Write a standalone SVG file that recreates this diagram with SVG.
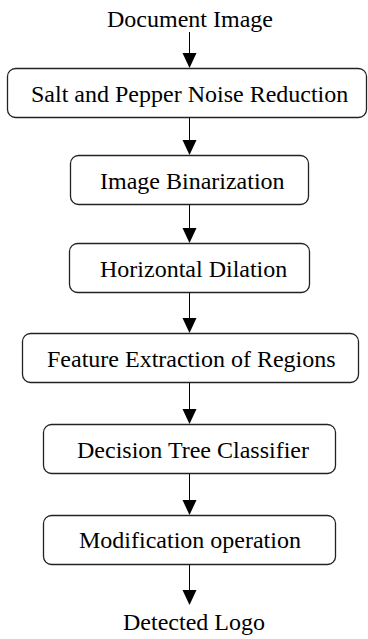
<svg xmlns="http://www.w3.org/2000/svg" width="368" height="639" viewBox="0 0 368 639">
<style>
.box{fill:#fff;stroke:#222;stroke-width:1.3}
.t{font-family:'Liberation Serif','Times New Roman',serif;font-size:24px;fill:#000}
.c{stroke:#000;stroke-width:1;fill:none}
.ah{fill:#000;stroke:none}
</style>
<rect width="368" height="639" fill="#fff"/>
<g id="connectors">
<line class="c" x1="189.5" y1="32" x2="189.5" y2="53"/>
<polygon class="ah" points="182.5,53 196.5,53 189.5,68"/>
<line class="c" x1="189.5" y1="118" x2="189.5" y2="140"/>
<polygon class="ah" points="182.5,140 196.5,140 189.5,155"/>
<line class="c" x1="189.5" y1="205" x2="189.5" y2="228"/>
<polygon class="ah" points="182.5,228 196.5,228 189.5,243"/>
<line class="c" x1="189.5" y1="293" x2="189.5" y2="318"/>
<polygon class="ah" points="182.5,318 196.5,318 189.5,333"/>
<line class="c" x1="189.5" y1="383" x2="189.5" y2="409"/>
<polygon class="ah" points="182.5,409 196.5,409 189.5,424"/>
<line class="c" x1="189.5" y1="474" x2="189.5" y2="500"/>
<polygon class="ah" points="182.5,500 196.5,500 189.5,515"/>
<line class="c" x1="189.5" y1="565" x2="189.5" y2="590"/>
<polygon class="ah" points="182.5,590 196.5,590 189.5,605"/>
</g>
<g id="start"><text class="t" x="107" y="27">Document Image</text></g>
<g id="n1"><rect class="box" x="7.5" y="68.5" width="359" height="49" rx="8"/><text class="t" x="31" y="102">Salt and Pepper Noise Reduction</text></g>
<g id="n2"><rect class="box" x="70.5" y="155.5" width="238" height="49" rx="8"/><text class="t" x="100" y="189">Image Binarization</text></g>
<g id="n3"><rect class="box" x="69.5" y="243.5" width="240" height="49" rx="8"/><text class="t" x="100" y="277">Horizontal Dilation</text></g>
<g id="n4"><rect class="box" x="22.5" y="333.5" width="336" height="49" rx="8"/><text class="t" x="47" y="367">Feature Extraction of Regions</text></g>
<g id="n5"><rect class="box" x="43.5" y="424.5" width="292" height="49" rx="8"/><text class="t" x="77" y="458">Decision Tree Classifier</text></g>
<g id="n6"><rect class="box" x="43.5" y="515.5" width="292" height="49" rx="8"/><text class="t" x="79" y="548">Modification operation</text></g>
<g id="end"><text class="t" x="123" y="630">Detected Logo</text></g>
</svg>
